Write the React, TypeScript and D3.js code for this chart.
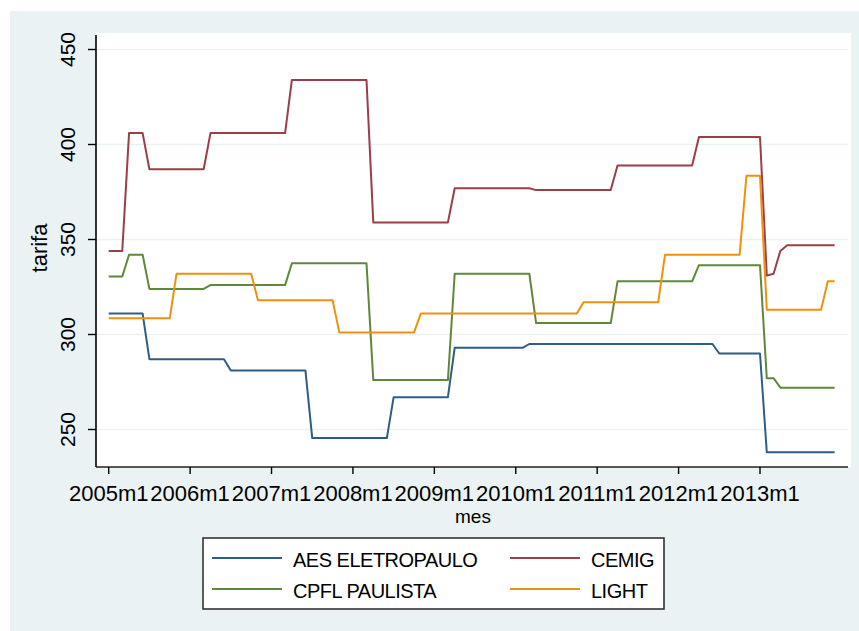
import React from "react";
import * as d3 from "d3";

// Monthly tariffs, 2005m1 .. 2013m12 (one row per year)
const aesEletropaulo: number[] = [
  311, 311, 311, 311, 311, 311, 287, 287, 287, 287, 287, 287,
  287, 287, 287, 287, 287, 287, 281, 281, 281, 281, 281, 281,
  281, 281, 281, 281, 281, 281, 245.5, 245.5, 245.5, 245.5, 245.5, 245.5,
  245.5, 245.5, 245.5, 245.5, 245.5, 245.5, 267, 267, 267, 267, 267, 267,
  267, 267, 267, 293, 293, 293, 293, 293, 293, 293, 293, 293,
  293, 293, 295, 295, 295, 295, 295, 295, 295, 295, 295, 295,
  295, 295, 295, 295, 295, 295, 295, 295, 295, 295, 295, 295,
  295, 295, 295, 295, 295, 295, 290, 290, 290, 290, 290, 290,
  290, 238, 238, 238, 238, 238, 238, 238, 238, 238, 238, 238,
];

const cemig: number[] = [
  344, 344, 344, 406, 406, 406, 387, 387, 387, 387, 387, 387,
  387, 387, 387, 406, 406, 406, 406, 406, 406, 406, 406, 406,
  406, 406, 406, 434, 434, 434, 434, 434, 434, 434, 434, 434,
  434, 434, 434, 359, 359, 359, 359, 359, 359, 359, 359, 359,
  359, 359, 359, 377, 377, 377, 377, 377, 377, 377, 377, 377,
  377, 377, 377, 376, 376, 376, 376, 376, 376, 376, 376, 376,
  376, 376, 376, 389, 389, 389, 389, 389, 389, 389, 389, 389,
  389, 389, 389, 404, 404, 404, 404, 404, 404, 404, 404, 404,
  404, 331, 332, 344, 347, 347, 347, 347, 347, 347, 347, 347,
];

const cpflPaulista: number[] = [
  330.5, 330.5, 330.5, 342, 342, 342, 324, 324, 324, 324, 324, 324,
  324, 324, 324, 326, 326, 326, 326, 326, 326, 326, 326, 326,
  326, 326, 326, 337.5, 337.5, 337.5, 337.5, 337.5, 337.5, 337.5, 337.5, 337.5,
  337.5, 337.5, 337.5, 276, 276, 276, 276, 276, 276, 276, 276, 276,
  276, 276, 276, 332, 332, 332, 332, 332, 332, 332, 332, 332,
  332, 332, 332, 306, 306, 306, 306, 306, 306, 306, 306, 306,
  306, 306, 306, 328, 328, 328, 328, 328, 328, 328, 328, 328,
  328, 328, 328, 336.5, 336.5, 336.5, 336.5, 336.5, 336.5, 336.5, 336.5, 336.5,
  336.5, 277, 277, 272, 272, 272, 272, 272, 272, 272, 272, 272,
];

const light: number[] = [
  308.5, 308.5, 308.5, 308.5, 308.5, 308.5, 308.5, 308.5, 308.5, 308.5, 332, 332,
  332, 332, 332, 332, 332, 332, 332, 332, 332, 332, 318, 318,
  318, 318, 318, 318, 318, 318, 318, 318, 318, 318, 301, 301,
  301, 301, 301, 301, 301, 301, 301, 301, 301, 301, 311, 311,
  311, 311, 311, 311, 311, 311, 311, 311, 311, 311, 311, 311,
  311, 311, 311, 311, 311, 311, 311, 311, 311, 311, 317, 317,
  317, 317, 317, 317, 317, 317, 317, 317, 317, 317, 342, 342,
  342, 342, 342, 342, 342, 342, 342, 342, 342, 342, 383.5, 383.5,
  383.5, 313, 313, 313, 313, 313, 313, 313, 313, 313, 328, 328,
];

const seriesNames = ["AES ELETROPAULO", "CEMIG", "CPFL PAULISTA", "LIGHT"];
const seriesColors = ["#2e5d8a", "#9a3f47", "#5f8838", "#f0900f"];
const seriesData = [aesEletropaulo, cemig, cpflPaulista, light];

const yTicks = [250, 300, 350, 400, 450];
const xTickLabels = [
  "2005m1", "2006m1", "2007m1", "2008m1", "2009m1",
  "2010m1", "2011m1", "2012m1", "2013m1",
];

const FONT = "'Liberation Sans', Arial, sans-serif";
const BG = "#eaf2f3";

export default function App() {
  const W = 859;
  const H = 631;
  const plot = { left: 96, right: 851, top: 33, bottom: 467 };

  const x = d3.scaleLinear().domain([0, 96]).range([108.7, 760]);
  const y = d3.scaleLinear().domain([250, 450]).range([429.5, 49.5]);

  const line = d3
    .line<number>()
    .x((_, i) => x(i))
    .y((v) => y(v));

  const legendRows = [
    [0, 1],
    [2, 3],
  ];

  return (
    <svg
      width={W}
      height={H}
      style={{ position: "absolute", left: 0, top: 0, fontFamily: FONT }}
    >
      <rect x={0} y={0} width={W} height={H} fill="#ffffff" />
      <rect x={10} y={11} width={W - 10} height={H - 11} fill={BG} />
      <rect
        x={plot.left}
        y={plot.top}
        width={plot.right - plot.left}
        height={plot.bottom - plot.top}
        fill="#ffffff"
      />
      {/* gridlines */}
      {yTicks.map((t) => (
        <line
          key={"g" + t}
          x1={plot.left + 1}
          x2={848}
          y1={y(t)}
          y2={y(t)}
          stroke={BG}
          strokeWidth={1.6}
        />
      ))}
      {/* series */}
      {seriesData.map((d, i) => (
        <path
          key={seriesNames[i]}
          d={line(d) || ""}
          fill="none"
          stroke={seriesColors[i]}
          strokeWidth={2}
          strokeLinejoin="round"
        />
      ))}
      {/* axes */}
      <line
        x1={plot.left}
        x2={plot.left}
        y1={35}
        y2={plot.bottom}
        stroke="#000"
        strokeWidth={1.6}
      />
      <line
        x1={plot.left}
        x2={848}
        y1={plot.bottom}
        y2={plot.bottom}
        stroke="#222"
        strokeWidth={1.6}
      />
      {yTicks.map((t) => (
        <g key={"y" + t}>
          <line
            x1={88}
            x2={plot.left}
            y1={y(t)}
            y2={y(t)}
            stroke="#000"
            strokeWidth={1.4}
          />
          <text
            transform={`translate(75,${y(t)}) rotate(-90)`}
            textAnchor="middle"
            fontSize={21}
            fill="#000"
          >
            {t}
          </text>
        </g>
      ))}
      {xTickLabels.map((lab, i) => (
        <g key={lab}>
          <line
            x1={x(i * 12)}
            x2={x(i * 12)}
            y1={plot.bottom}
            y2={474}
            stroke="#000"
            strokeWidth={1.4}
          />
          <text
            x={x(i * 12)}
            y={501}
            textAnchor="middle"
            fontSize={22}
            fill="#000"
          >
            {lab}
          </text>
        </g>
      ))}
      <text x={473} y={523} textAnchor="middle" fontSize={19} fill="#000">
        mes
      </text>
      <text
        transform={`translate(47,248) rotate(-90)`}
        textAnchor="middle"
        fontSize={22}
        fill="#000"
      >
        tarifa
      </text>
      {/* legend */}
      <rect
        x={203}
        y={538}
        width={461}
        height={71}
        fill="#ffffff"
        stroke="#333"
        strokeWidth={1.6}
      />
      {legendRows.map((row, r) =>
        row.map((si, c) => {
          const ly = 558 + r * 31;
          const lx = c === 0 ? 212 : 510;
          return (
            <g key={seriesNames[si]}>
              <line
                x1={lx}
                x2={lx + 70}
                y1={ly}
                y2={ly}
                stroke={seriesColors[si]}
                strokeWidth={2}
              />
              <text
                x={lx + 81}
                y={ly + 9}
                fontSize={20}
                letterSpacing={-0.5}
                fill="#000"
              >
                {seriesNames[si]}
              </text>
            </g>
          );
        })
      )}
    </svg>
  );
}
